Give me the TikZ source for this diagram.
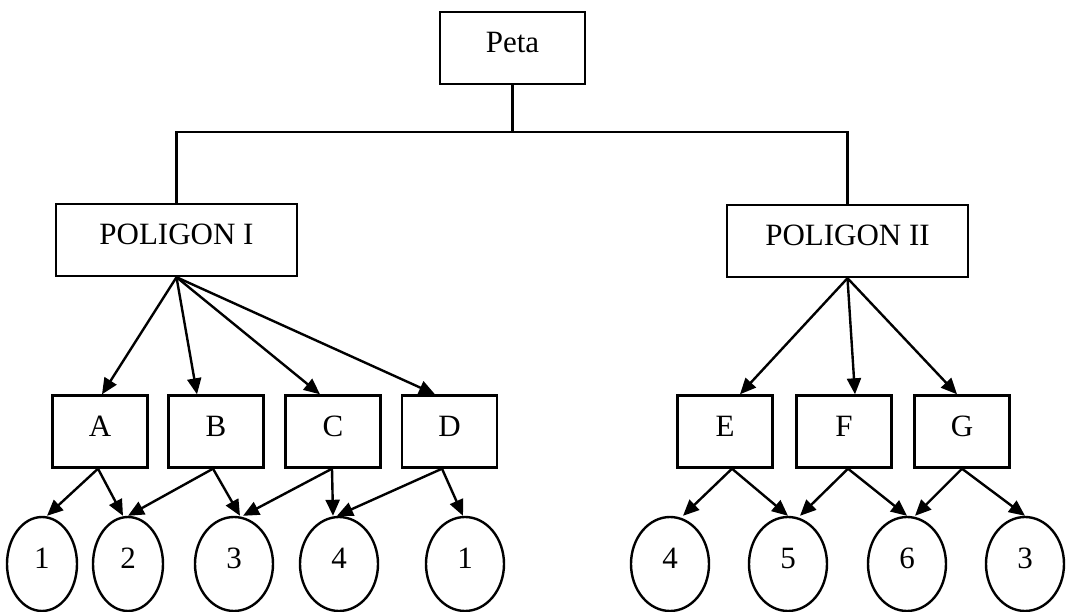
\documentclass[tikz,border=0pt]{standalone}
\usepackage{fontspec}
\setmainfont{Liberation Serif}
\usetikzlibrary{arrows.meta,shapes.geometric}

\begin{document}
\begin{tikzpicture}[x=1pt,y=-1pt,
  lbl/.style={font=\fontsize{31}{37}\selectfont},
  box/.style={lbl, draw, line width=2.4pt, rectangle, inner sep=0pt,
    minimum width=95pt, text height=41pt, text depth=31pt},
  leaf/.style={lbl, draw, line width=2.4pt, ellipse, inner sep=0pt,
    minimum width=78pt, minimum height=94pt, text height=21pt, text depth=13pt},
  link/.style={line width=2.4pt},
  arr/.style={line width=2.4pt, -{Triangle[length=16pt,width=14pt]}}
]
\useasboundingbox (0,0) rectangle (1069,612);

% root and the two polygons
\node[box, minimum width=145pt] (peta) at (512.5,48) {Peta};
\node[box, minimum width=241pt] (p1) at (176.5,240) {POLIGON I};
\node[box, minimum width=241pt] (p2) at (847.5,241) {POLIGON II};

\coordinate (bus) at (512.5,132);
\draw[link] (peta.south) -- (bus) -| (p1.north);
\draw[link] (bus) -| (p2.north);

% blocks
\node[box] (a) at (100,431.5) {A};
\node[box] (b) at (216,431.5) {B};
\node[box] (c) at (333,431.5) {C};
\node[box] (d) at (449.5,431.5) {D};
\node[box] (e) at (725,431.5) {E};
\node[box] (f) at (844,431.5) {F};
\node[box] (g) at (962,431.5) {G};

\draw[arr] (p1.south) -- ([xshift=2pt]a.north);
\draw[arr] (p1.south) -- ([xshift=-19pt]b.north);
\draw[arr] (p1.south) -- ([xshift=-13pt]c.north);
\draw[arr] (p1.south) -- ([xshift=-14.5pt]d.north);
\draw[arr] (p2.south) -- ([xshift=15pt]e.north);
\draw[arr] (p2.south) -- ([xshift=11pt]f.north);
\draw[arr] (p2.south) -- ([xshift=-5pt]g.north);

% numbered parcels
\node[leaf, minimum width=70pt] (l1) at (42,564) {1};
\node[leaf, minimum width=70pt] (l2) at (128,564) {2};
\node[leaf] (l3) at (234,564) {3};
\node[leaf] (l4) at (339,564) {4};
\node[leaf] (l5) at (465,564) {1};
\node[leaf] (r1) at (670,564) {4};
\node[leaf] (r2) at (788,564) {5};
\node[leaf] (r3) at (907,564) {6};
\node[leaf] (r4) at (1025,564) {3};

\draw[arr] ([xshift=-2pt]a.south) -- ([xshift=5pt]l1.north);
\draw[arr] ([xshift=-2pt]a.south) -- ([xshift=-5pt]l2.north);
\draw[arr] ([xshift=-3pt]b.south) -- (l2.north);
\draw[arr] ([xshift=-3pt]b.south) -- ([xshift=6pt]l3.north);
\draw[arr] ([xshift=-1pt]c.south) -- ([xshift=9pt]l3.north);
\draw[arr] ([xshift=-1pt]c.south) -- ([xshift=-6pt]l4.north);
\draw[arr] ([xshift=-7.5pt]d.south) -- ([xshift=-2pt]l4.north);
\draw[arr] ([xshift=-7.5pt]d.south) -- ([xshift=-2pt]l5.north);
\draw[arr] ([xshift=7pt]e.south) -- ([xshift=13pt]r1.north);
\draw[arr] ([xshift=7pt]e.south) -- (r2.north);
\draw[arr] ([xshift=4pt]f.south) -- ([xshift=12pt]r2.north);
\draw[arr] ([xshift=4pt]f.south) -- (r3.north);
\draw[arr] (g.south) -- ([xshift=8pt]r3.north);
\draw[arr] (g.south) -- (r4.north);
\end{tikzpicture}
\end{document}
